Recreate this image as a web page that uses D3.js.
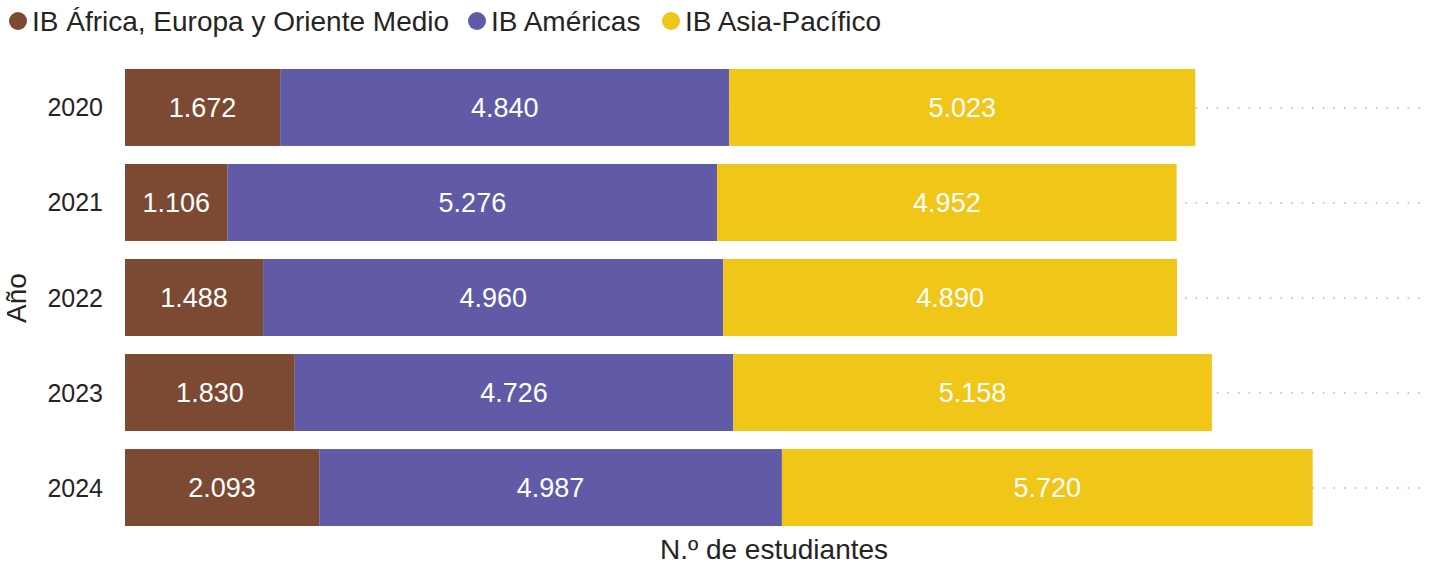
<!DOCTYPE html>
<html lang="es">
<head>
  <meta charset="UTF-8">
  <title>N.º de estudiantes por región IB</title>
  <script src="https://d3js.org/d3.v7.min.js"></script>
  <style>
    body { margin: 0; background: #fff; font-family: "Liberation Sans", Arial, sans-serif; }
    svg text { fill: #252423; }
  </style>
</head>
<body>
  <svg width="1442" height="564"></svg>
  <script>
    const years = ["2020", "2021", "2022", "2023", "2024"];
    const series = ["IB África, Europa y Oriente Medio", "IB Américas", "IB Asia-Pacífico"];
    const africaEuropa = [1672, 1106, 1488, 1830, 2093];
    const americas = [4840, 5276, 4960, 4726, 4987];
    const asiaPacifico = [5023, 4952, 4890, 5158, 5720];
    const colors = ["#7c4a33", "#615aa7", "#f0c619"];

    const svg = d3.select("svg");
    const fmt = d3.formatLocale({ decimal: ",", thousands: ".", grouping: [3], currency: ["", ""] }).format(",d");

    const rows = years.map((y, i) => ({ year: y, v: [africaEuropa[i], americas[i], asiaPacifico[i]] }));
    const stack = d3.stack().keys([0, 1, 2]).value((d, k) => d.v[k]);
    const layers = stack(rows);

    const x = d3.scaleLinear().domain([0, 14000]).range([125, 1424]);
    const y = d3.scaleBand().domain(years).range([59, 536]).paddingInner(0.19).paddingOuter(0.105);

    // dotted category gridlines
    svg.append("g").selectAll("line")
      .data(years)
      .join("line")
      .attr("x1", x(0))
      .attr("x2", x(14000))
      .attr("y1", d => y(d) + y.bandwidth() / 2 + 0.5)
      .attr("y2", d => y(d) + y.bandwidth() / 2 + 0.5)
      .attr("stroke", "#b8b8b8")
      .attr("stroke-width", 1.6)
      .attr("stroke-dasharray", "1.6,9");

    const layer = svg.append("g").selectAll("g")
      .data(layers)
      .join("g")
      .attr("fill", (d, i) => colors[i]);

    layer.selectAll("rect")
      .data(d => d)
      .join("rect")
      .attr("x", d => x(d[0]))
      .attr("width", d => x(d[1]) - x(d[0]))
      .attr("y", d => y(d.data.year))
      .attr("height", y.bandwidth());

    layer.selectAll("text")
      .data(d => d)
      .join("text")
      .attr("x", d => (x(d[0]) + x(d[1])) / 2)
      .attr("y", d => y(d.data.year) + y.bandwidth() / 2)
      .attr("dy", "0.36em")
      .attr("text-anchor", "middle")
      .style("fill", "#fff")
      .style("font-size", "27px")
      .text(d => fmt(d[1] - d[0]));

    // y axis labels
    const yAxis = svg.append("g")
      .attr("transform", "translate(103,0)")
      .call(d3.axisLeft(y).tickSize(0).tickPadding(0));
    yAxis.select(".domain").remove();
    yAxis.selectAll("text")
      .attr("dy", "0.36em")
      .style("font-size", "25px")
      .style("font-family", "'Liberation Sans', Arial, sans-serif")
      .style("fill", "#252423");

    svg.append("text")
      .attr("transform", "translate(26,298) rotate(-90)")
      .attr("text-anchor", "middle")
      .style("font-size", "28px")
      .text("Año");

    svg.append("text")
      .attr("x", 774)
      .attr("y", 559)
      .attr("text-anchor", "middle")
      .style("font-size", "28px")
      .text("N.º de estudiantes");

    // legend
    const legendX = [18, 477, 671];
    const legend = svg.append("g").selectAll("g")
      .data(series)
      .join("g")
      .attr("transform", (d, i) => `translate(${legendX[i]},21)`);
    legend.append("circle")
      .attr("r", 9)
      .attr("fill", (d, i) => colors[i]);
    legend.append("text")
      .attr("x", 14)
      .attr("dy", "0.36em")
      .style("font-size", "28px")
      .text(d => d);
  </script>
</body>
</html>
